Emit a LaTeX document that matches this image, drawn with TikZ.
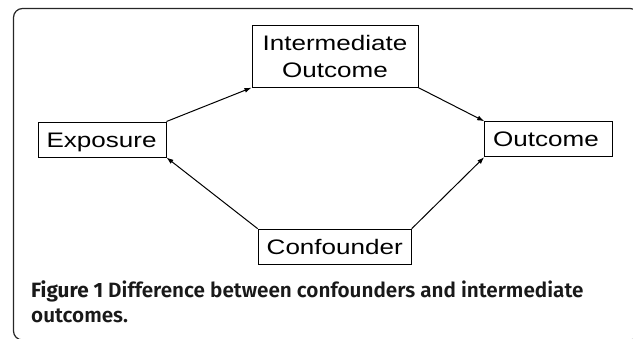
\documentclass[tikz,border=0pt]{standalone}
\usepackage{fontspec}
\setmainfont{Liberation Sans}[FakeStretch=1.24]
\newfontfamily\capfont{Fira Sans SemiBold}
\newfontfamily\capboldfont{Fira Sans Bold}
\usetikzlibrary{arrows.meta}
\tikzset{
  box/.style={draw, line width=1pt, inner xsep=8.5pt, inner ysep=0pt, align=left,
    font=\fontsize{21}{26.7}\selectfont},
  oneline/.style={box, minimum height=35pt, text height=15pt, text depth=0pt},
  link/.style={-{Latex[length=7pt,width=5pt]}, line width=1pt},
  caption/.style={anchor=base west, inner sep=0pt, text=black!90,
    font=\capfont\fontsize{20.7}{25}\selectfont},
}
\begin{document}
\begin{tikzpicture}[x=1pt,y=-1pt]
   \useasboundingbox (0,0) rectangle (633,338);
   \draw[line width=1.2pt, rounded corners=9pt, black!85] (13.5,8.5) rectangle (639,340);
   % the four boxes
   \node[oneline, text width=111pt] (expo) at (102,139.5) {Exposure};
   \node[box, align=center, text width=149pt, minimum height=62pt] (inter) at (335,56.2) {Intermediate\\Outcome};
   \node[oneline, text width=111pt] (outc) at (548.7,139.2) {Outcome};
   \node[oneline, text width=136pt] (conf) at (334.7,246.7) {Confounder};
   % links between corners
   \draw[link] (expo.north east) -- (inter.south west);
   \draw[link] (inter.south east) -- (outc.north west);
   \draw[link] (conf.north west) -- (expo.south east);
   \draw[link] (conf.north east) -- (outc.south west);
   % caption
   \node[caption] (capa) at (31,297.7) {{\capboldfont Figure 1} Difference between confounders and intermediate};
   \node[caption] (capb) at (31,322.7) {outcomes.};
\end{tikzpicture}
\end{document}
